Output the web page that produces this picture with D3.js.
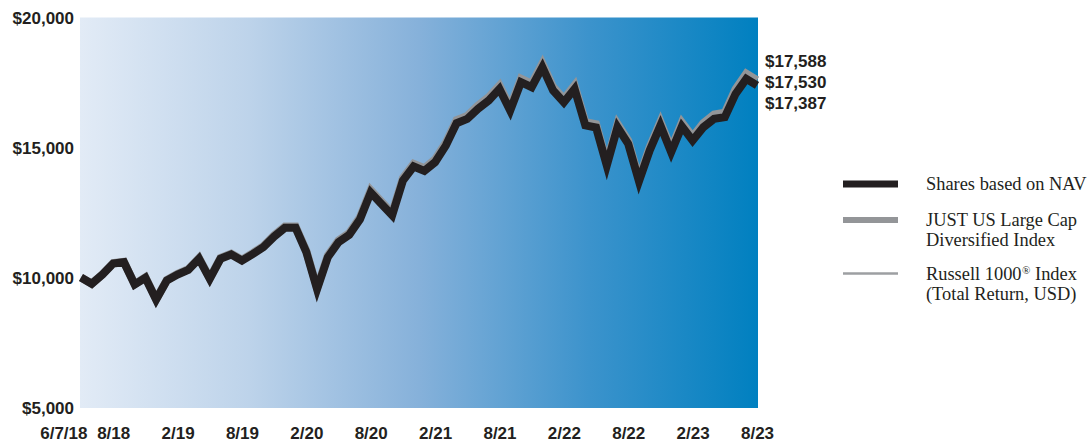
<!DOCTYPE html>
<html>
<head>
<meta charset="utf-8">
<script src="https://cdn.jsdelivr.net/npm/d3@7/dist/d3.min.js"></script>
<style>
  html, body { margin: 0; padding: 0; background: #ffffff; }
  svg { display: block; }
</style>
</head>
<body>
<svg id="chart" width="1092" height="442"></svg>
<script>
// Growth of $10,000 — period ends (first point is the inception date)
const periods = [
  "6/7/18", "6/18", "7/18", "8/18", "9/18", "10/18", "11/18", "12/18",
  "1/19", "2/19", "3/19", "4/19", "5/19", "6/19", "7/19", "8/19", "9/19", "10/19", "11/19", "12/19",
  "1/20", "2/20", "3/20", "4/20", "5/20", "6/20", "7/20", "8/20", "9/20", "10/20", "11/20", "12/20",
  "1/21", "2/21", "3/21", "4/21", "5/21", "6/21", "7/21", "8/21", "9/21", "10/21", "11/21", "12/21",
  "1/22", "2/22", "3/22", "4/22", "5/22", "6/22", "7/22", "8/22", "9/22", "10/22", "11/22", "12/22",
  "1/23", "2/23", "3/23", "4/23", "5/23", "6/23", "7/23", "8/23"
];

// Shares based on NAV
const navValues = [
  10000, 9760, 10115, 10540, 10590, 9730, 9990, 9150,
  9885, 10115, 10295, 10720, 9950, 10720, 10885, 10650, 10900, 11165, 11575, 11910,
  11910, 10975, 9550, 10780, 11360, 11640, 12240, 13270, 12830, 12390, 13730, 14270,
  14100, 14435, 15075, 15935, 16100, 16490, 16810, 17255, 16420, 17510, 17320, 18090,
  17190, 16740, 17255, 15850, 15770, 14310, 15780, 15140, 13700, 14885, 15850, 14820,
  15810, 15270, 15780, 16100, 16165, 17060, 17640, 17387
];

// JUST US Large Cap Diversified Index
const justValues = [
  10000, 9765, 10125, 10555, 10605, 9745, 10010, 9165,
  9905, 10140, 10320, 10750, 9975, 10755, 10920, 10685, 10940, 11210, 11625, 11965,
  11965, 11025, 9600, 10840, 11425, 11710, 12320, 13360, 12915, 12470, 13825, 14370,
  14200, 14540, 15185, 16050, 16215, 16610, 16935, 17385, 16545, 17645, 17455, 18230,
  17325, 16870, 17390, 15975, 15895, 14425, 15910, 15265, 13815, 15010, 15990, 14950,
  15960, 15415, 15935, 16265, 16335, 17245, 17840, 17588
];

// Russell 1000 Index (Total Return, USD)
const russellValues = [
  10000, 9765, 10120, 10550, 10600, 9740, 10000, 9160,
  9895, 10130, 10310, 10740, 9965, 10745, 10905, 10670, 10925, 11195, 11605, 11945,
  11945, 11005, 9580, 10815, 11400, 11685, 12295, 13330, 12885, 12440, 13790, 14335,
  14165, 14505, 15150, 16015, 16180, 16575, 16895, 17345, 16505, 17600, 17410, 18185,
  17280, 16825, 17345, 15930, 15850, 14385, 15865, 15225, 13775, 14970, 15945, 14905,
  15915, 15370, 15885, 16210, 16280, 17190, 17785, 17530
];

const xTickLabels = ["6/7/18", "8/18", "2/19", "8/19", "2/20", "8/20", "2/21", "8/21", "2/22", "8/22", "2/23", "8/23"];
const yTickValues = [5000, 10000, 15000, 20000];

// Legend text; "|" breaks a line, "^" marks a superscript piece
const seriesNames = ["Shares based on NAV", "JUST US Large Cap|Diversified Index", "Russell 1000^\u00AE^ Index|(Total Return, USD)"];

const svg = d3.select("#chart");
const plot = { left: 80, right: 758, top: 17.5, bottom: 408 };

const x = d3.scalePoint().domain(periods).range([81, 757]);
const y = d3.scaleLinear().domain([5000, 20000]).range([407.5, 17.5]);

// Background gradient, light blue to deep blue
const defs = svg.append("defs");
const grad = defs.append("linearGradient").attr("id", "bg").attr("x1", "0").attr("x2", "1").attr("y1", "0").attr("y2", "0");
[["0%", "#e2ebf6"], ["25%", "#bdd3ea"], ["50%", "#86b1da"], ["75%", "#3c93cc"], ["100%", "#0080c0"]]
  .forEach(([o, c]) => grad.append("stop").attr("offset", o).attr("stop-color", c));

svg.append("rect")
  .attr("x", plot.left).attr("y", plot.top)
  .attr("width", plot.right - plot.left).attr("height", plot.bottom - plot.top)
  .attr("fill", "url(#bg)");

const axisFont = "'Liberation Sans', Arial, sans-serif";

// Y axis
const yAxis = svg.append("g")
  .attr("transform", `translate(${plot.left - 6},0)`)
  .call(d3.axisLeft(y).tickValues(yTickValues).tickFormat(d3.format("$,")).tickSize(0).tickPadding(0));
yAxis.select(".domain").remove();
yAxis.selectAll("text")
  .attr("font-family", axisFont).attr("font-size", 17).attr("font-weight", "bold")
  .attr("fill", "#231f20").attr("dy", "0.35em");

// X axis
const xAxis = svg.append("g")
  .attr("transform", `translate(0,${plot.bottom})`)
  .call(d3.axisBottom(x).tickValues(xTickLabels).tickSize(0).tickPadding(0));
xAxis.select(".domain").remove();
xAxis.selectAll("text")
  .attr("font-family", axisFont).attr("font-size", 17).attr("font-weight", "bold")
  .attr("fill", "#231f20").attr("y", 25).attr("dy", "0.35em");
xAxis.selectAll("text").filter(d => d === periods[0])
  .attr("text-anchor", "end").attr("x", 6);

// Lines
const line = d3.line().x((d, i) => x(periods[i])).y(d => y(d)).curve(d3.curveLinear);

svg.append("path").datum(russellValues)
  .attr("d", line).attr("fill", "none")
  .attr("stroke", "#9d9fa2").attr("stroke-width", 2.5).attr("stroke-linejoin", "miter");

svg.append("path").datum(justValues)
  .attr("d", line).attr("fill", "none")
  .attr("stroke", "#939598").attr("stroke-width", 8).attr("stroke-linejoin", "miter").attr("stroke-miterlimit", 10);

svg.append("path").datum(navValues)
  .attr("d", line).attr("fill", "none")
  .attr("stroke", "#231f20").attr("stroke-width", 8).attr("stroke-linejoin", "miter").attr("stroke-miterlimit", 10);

// Ending values, stacked to the right of the plot
const endValues = [justValues[justValues.length - 1], russellValues[russellValues.length - 1], navValues[navValues.length - 1]];
svg.append("g").selectAll("text").data(endValues).join("text")
  .attr("x", 765).attr("y", (d, i) => 61.5 + i * 20.8)
  .attr("dy", "0.35em")
  .attr("font-family", axisFont).attr("font-size", 17).attr("font-weight", "bold")
  .attr("fill", "#231f20")
  .text(d => d3.format("$,")(d));

// Legend
const legendFont = "'Liberation Serif', 'Times New Roman', serif";
const legendItems = [
  { name: seriesNames[0], color: "#231f20", width: 7, y: 184 },
  { name: seriesNames[1], color: "#939598", width: 6, y: 220 },
  { name: seriesNames[2], color: "#9d9fa2", width: 2.5, y: 273.5 }
];
const lg = svg.append("g");
legendItems.forEach(item => {
  lg.append("line")
    .attr("x1", 843).attr("x2", 898).attr("y1", item.y).attr("y2", item.y)
    .attr("stroke", item.color).attr("stroke-width", item.width);
  item.name.split("|").forEach((row, i) => {
    const t = lg.append("text")
      .attr("x", 926).attr("y", item.y + i * 20).attr("dy", "0.35em")
      .attr("font-family", legendFont).attr("font-size", 18.4)
      .attr("fill", "#231f20");
    row.split("^").forEach((piece, j) => {
      const span = t.append("tspan").text(piece);
      if (j % 2 === 1) {
        span.attr("font-size", 11).attr("dy", -6).attr("dx", 0.5);
      } else if (j > 0) {
        span.attr("dy", 6);
      }
    });
  });
});
</script>
</body>
</html>
